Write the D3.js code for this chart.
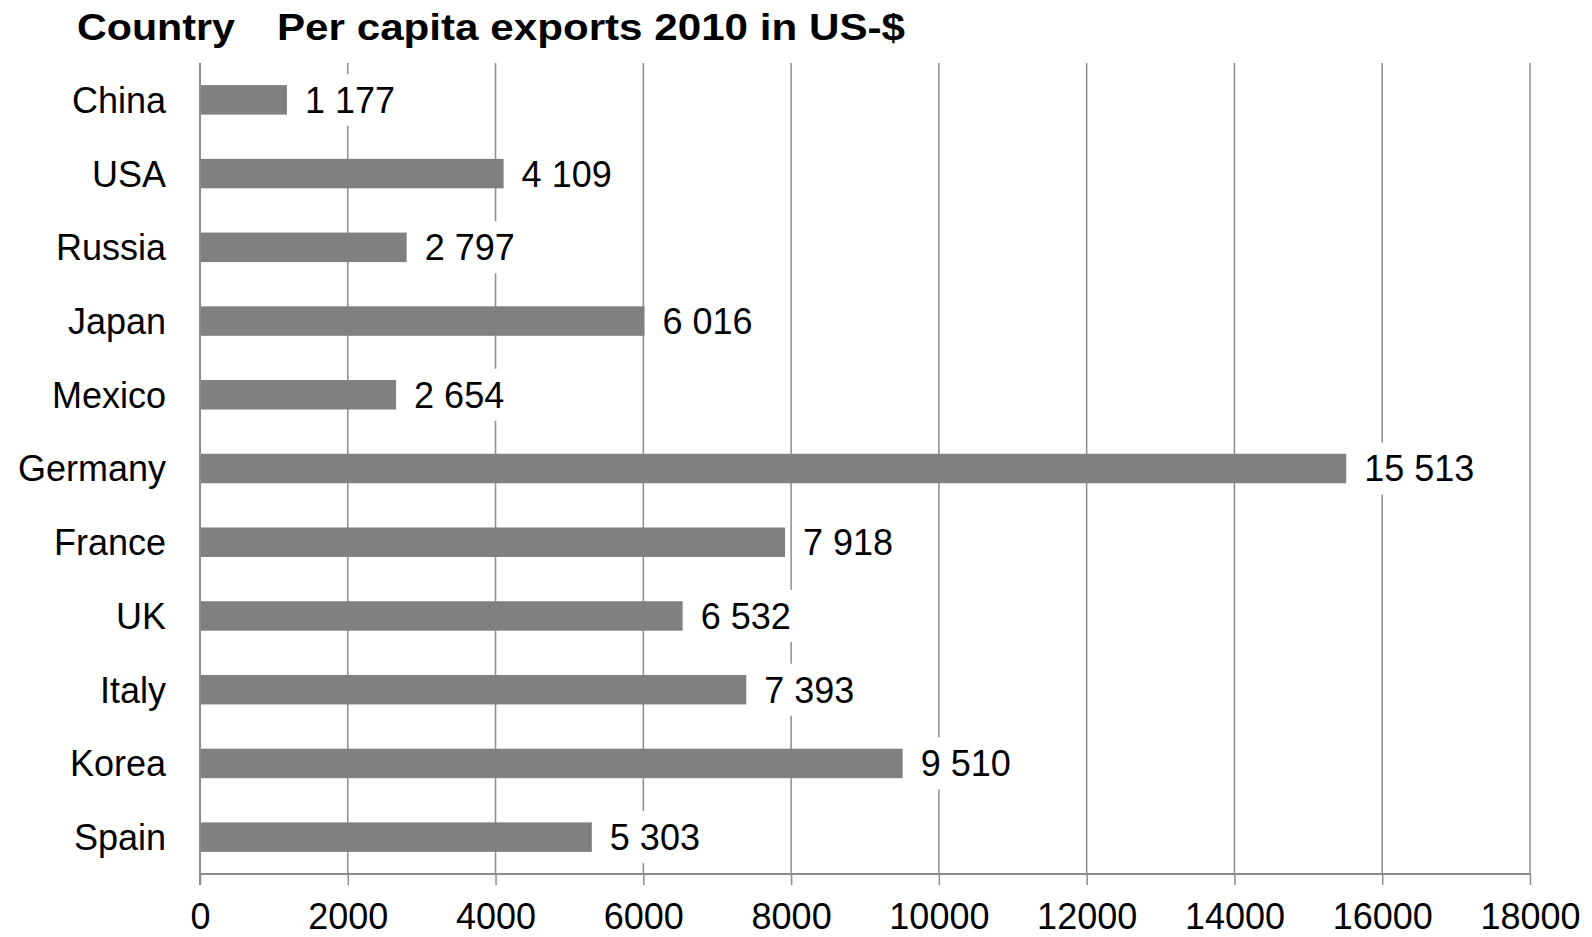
<!DOCTYPE html>
<html>
<head>
<meta charset="utf-8">
<script src="https://cdn.jsdelivr.net/npm/d3@7/dist/d3.min.js"></script>
<style>
  html, body { margin: 0; padding: 0; background: #fff; }
  svg { display: block; font-family: "Liberation Sans", Arial, sans-serif; }
</style>
</head>
<body>
<svg id="chart" width="1592" height="937"></svg>
<script>
// Per capita exports, 2010, in US-$
const countries = ["China", "USA", "Russia", "Japan", "Mexico", "Germany", "France", "UK", "Italy", "Korea", "Spain"];
const exportsPerCapita = [1177, 4109, 2797, 6016, 2654, 15513, 7918, 6532, 7393, 9510, 5303];
const xTicks = [0, 2000, 4000, 6000, 8000, 10000, 12000, 14000, 16000, 18000];

const svg = d3.select("#chart");
const margin = { top: 63, left: 200, right: 62, bottom: 63 };
const W = 1592, H = 937;
const plotBottom = H - margin.bottom;

const x = d3.scaleLinear().domain([0, 18000]).range([margin.left, W - margin.right]);
const y = d3.scaleBand().domain(countries).range([margin.top, plotBottom]).paddingInner(0.6).paddingOuter(0.3);

const gridColor = "#8c8c8c";
const fmt = v => d3.format(",")(v).replace(/,/g, " ");

// vertical gridlines
svg.append("g").selectAll("line").data(xTicks.slice(1)).join("line")
  .attr("x1", d => x(d)).attr("x2", d => x(d))
  .attr("y1", margin.top).attr("y2", plotBottom)
  .attr("stroke", gridColor).attr("stroke-width", 1.5);

// bottom axis
const xAxis = svg.append("g").attr("transform", `translate(0,${plotBottom})`)
  .call(d3.axisBottom(x).tickValues(xTicks).tickSize(11).tickPadding(18).tickFormat(d3.format("d")));
xAxis.select(".domain").attr("stroke", gridColor).attr("stroke-width", 2)
  .attr("d", `M${x(0)},0H${x(18000)}`);
xAxis.selectAll(".tick line").attr("stroke", gridColor).attr("stroke-width", 1.5);
xAxis.selectAll(".tick text").attr("fill", "#000").attr("font-size", 36)
  .attr("font-family", "Liberation Sans, Arial, sans-serif");

// left axis line
svg.append("line")
  .attr("x1", x(0)).attr("x2", x(0))
  .attr("y1", margin.top).attr("y2", plotBottom + 11)
  .attr("stroke", gridColor).attr("stroke-width", 2);

// bars
svg.append("g").selectAll("rect").data(countries).join("rect")
  .attr("x", x(0) + 1)
  .attr("y", d => y(d))
  .attr("width", (d, i) => x(exportsPerCapita[i]) - x(0) - 1)
  .attr("height", y.bandwidth())
  .attr("fill", "#808080");

// value labels on white boxes
const labels = svg.append("g").selectAll("g").data(countries).join("g")
  .attr("transform", (d, i) => `translate(${x(exportsPerCapita[i]) + 18},${y(d) + y.bandwidth() / 2})`);
labels.append("text")
  .attr("font-size", 36).attr("dy", "0.36em").attr("fill", "#000")
  .text((d, i) => fmt(exportsPerCapita[i]));
labels.each(function () {
  const g = d3.select(this);
  const bb = g.select("text").node().getBBox();
  g.insert("rect", "text")
    .attr("x", bb.x - 8).attr("y", -26)
    .attr("width", bb.width + 16).attr("height", 52)
    .attr("fill", "#fff");
});

// category labels
svg.append("g").selectAll("text").data(countries).join("text")
  .attr("x", 166).attr("y", d => y(d) + y.bandwidth() / 2)
  .attr("dy", "0.36em").attr("text-anchor", "end")
  .attr("font-size", 36).attr("fill", "#000")
  .text(d => d);

// headings (wide bold lettering)
svg.append("text").attr("x", 77).attr("y", 39.5)
  .attr("font-size", 36).attr("font-weight", "bold").attr("fill", "#000")
  .attr("textLength", 158).attr("lengthAdjust", "spacingAndGlyphs")
  .text("Country");
svg.append("text").attr("x", 277).attr("y", 39.5)
  .attr("font-size", 36).attr("font-weight", "bold").attr("fill", "#000")
  .attr("textLength", 628).attr("lengthAdjust", "spacingAndGlyphs")
  .text("Per capita exports 2010 in US-$");
</script>
</body>
</html>
